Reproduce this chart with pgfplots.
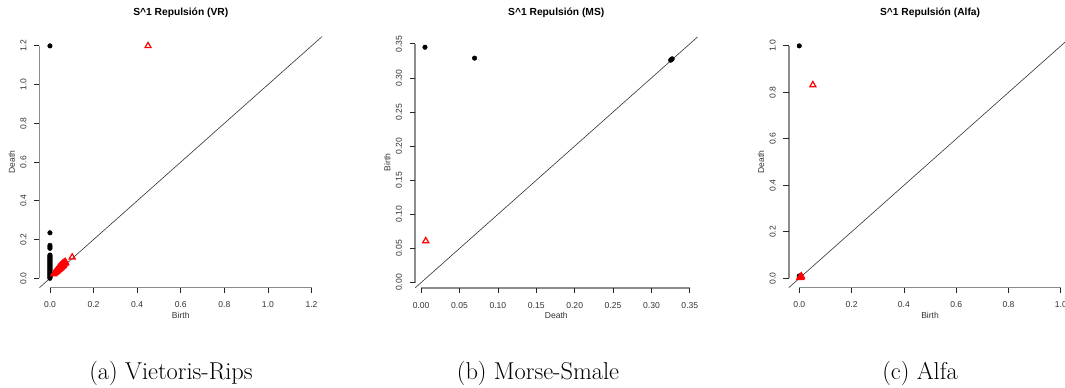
\documentclass[border=0pt]{standalone}
\usepackage{fontspec}
\usepackage{pgfplots}
\pgfplotsset{compat=1.18}
\newfontfamily\rsans{Liberation Sans}
\definecolor{ticktext}{HTML}{333333}
\definecolor{rred}{HTML}{FF0000}

\pgfplotsset{
  rstyle/.style={
    anchor=south west, scale only axis, width=290.5bp, height=259bp,
    axis x line*=bottom, axis y line*=left,
    axis line style={draw=none},
    major tick length=0pt,
    major tick style={draw=none},
    minor tick num=0,
    clip=false,
    unbounded coords=jump,
    /pgf/number format/assume math mode=true,
    /pgf/number format/fixed, /pgf/number format/fixed zerofill,
    tick label style={font=\rsans\fontsize{8.6}{10}\selectfont, text=ticktext},
    yticklabel style={rotate=90, anchor=south, yshift=1.5bp},
    xticklabel style={anchor=north, yshift=-2.7bp},
    label style={font=\rsans\fontsize{8.6}{10}\selectfont, text=ticktext},
    xlabel style={at={(axis description cs:0.51377,0.030888)}, anchor=center, yshift=-27.7bp},
    ylabel style={at={(axis description cs:0.027539,0.51544)}, anchor=center, yshift=27.8bp},
    title style={font=\rsans\bfseries\fontsize{10.3}{12}\selectfont, at={(axis description cs:0.51377,1)}, anchor=base, yshift=15.6bp},
    scaled ticks=false,
  },
  bcirc/.style={only marks, mark=*, mark size=2.3bp, black, mark options={fill=black, draw=black}},
  rtri/.style={only marks, mark=triangle, mark size=3.5bp, rred, mark options={draw=rred, line width=1.2bp}},
  diag/.style={black!80, line width=0.6bp, no marks},
  raxis/.style={black!45, line width=1.5bp, no marks},
  rtick/.style={black!85, line width=0.8bp, no marks},
}

\begin{document}
\begin{tikzpicture}
\useasboundingbox (0bp,0bp) rectangle (1065bp,388bp);

% ---------- Panel 1: Vietoris-Rips ----------
\begin{axis}[rstyle, at={(31.5bp,92.4bp)},
  xmin=-0.0847, xmax=1.248, ymin=-0.0893, ymax=1.248,
  xtick={0,0.2,0.4,0.6,0.8,1.0,1.2}, ytick={0,0.2,0.4,0.6,0.8,1.0,1.2},
  /pgf/number format/precision=1,
  title={S\textasciicircum 1 Repulsión (VR)}, xlabel={Birth}, ylabel={Death}]
\addplot[raxis] coordinates {(0,-0.048) (1.2,-0.048)};
\addplot[raxis] coordinates {(-0.048,0) (-0.048,1.2)};
\addplot[rtick] coordinates {
 (0,-0.048) (0,-0.0764) (0,nan) (0.2,-0.048) (0.2,-0.0764) (0.2,nan)
 (0.4,-0.048) (0.4,-0.0764) (0.4,nan) (0.6,-0.048) (0.6,-0.0764) (0.6,nan)
 (0.8,-0.048) (0.8,-0.0764) (0.8,nan) (1.0,-0.048) (1.0,-0.0764) (1.0,nan)
 (1.2,-0.048) (1.2,-0.0764)};
\addplot[rtick] coordinates {
 (-0.048,0) (-0.0732,0) (nan,0) (-0.048,0.2) (-0.0732,0.2) (nan,0.2)
 (-0.048,0.4) (-0.0732,0.4) (nan,0.4) (-0.048,0.6) (-0.0732,0.6) (nan,0.6)
 (-0.048,0.8) (-0.0732,0.8) (nan,0.8) (-0.048,1.0) (-0.0732,1.0) (nan,1.0)
 (-0.048,1.2) (-0.0732,1.2)};
\addplot[diag] coordinates {(-0.048,-0.048) (1.248,1.248)};
\addplot[bcirc] coordinates {
 (0,1.2) (0,0.235) (0,0.17) (0,0.162) (0,0.155)
 (0,0.0) (0,0.005) (0,0.01) (0,0.015) (0,0.02) (0,0.025) (0,0.03) (0,0.035)
 (0,0.04) (0,0.045) (0,0.05) (0,0.055) (0,0.06) (0,0.065) (0,0.07) (0,0.075)
 (0,0.08) (0,0.085) (0,0.09) (0,0.095) (0,0.1) (0,0.105) (0,0.11) (0,0.115) (0,0.12)
};
\addplot[rtri] coordinates {
 (0.45,1.2) (0.102,0.109)
 (0.018,0.022) (0.022,0.028) (0.025,0.03) (0.028,0.035) (0.03,0.04) (0.032,0.038)
 (0.035,0.045) (0.038,0.05) (0.04,0.055) (0.042,0.048) (0.045,0.06) (0.048,0.065)
 (0.05,0.055) (0.052,0.068) (0.055,0.072) (0.058,0.065) (0.06,0.078) (0.062,0.07)
 (0.065,0.082) (0.068,0.075) (0.07,0.085) (0.072,0.08) (0.035,0.04) (0.045,0.05)
 (0.055,0.06) (0.04,0.045) (0.06,0.066) (0.05,0.062) (0.045,0.055)
};
\end{axis}

% ---------- Panel 2: Morse-Smale ----------
\begin{axis}[rstyle, at={(407bp,92bp)},
  xmin=-0.01842, xmax=0.36, ymin=-0.01973, ymax=0.36,
  xtick={0,0.05,0.1,0.15,0.2,0.25,0.3,0.35}, ytick={0,0.05,0.1,0.15,0.2,0.25,0.3,0.35},
  /pgf/number format/precision=2,
  title={S\textasciicircum 1 Repulsión (MS)}, xlabel={Death}, ylabel={Birth}]
\addplot[raxis] coordinates {(0,-0.008) (0.35,-0.008)};
\addplot[raxis] coordinates {(-0.008,0) (-0.008,0.35)};
\addplot[rtick] coordinates {
 (0,-0.008) (0,-0.01606) (0,nan) (0.05,-0.008) (0.05,-0.01606) (0.05,nan)
 (0.1,-0.008) (0.1,-0.01606) (0.1,nan) (0.15,-0.008) (0.15,-0.01606) (0.15,nan)
 (0.2,-0.008) (0.2,-0.01606) (0.2,nan) (0.25,-0.008) (0.25,-0.01606) (0.25,nan)
 (0.3,-0.008) (0.3,-0.01606) (0.3,nan) (0.35,-0.008) (0.35,-0.01606)};
\addplot[rtick] coordinates {
 (-0.008,0) (-0.01516,0) (nan,0) (-0.008,0.05) (-0.01516,0.05) (nan,0.05)
 (-0.008,0.1) (-0.01516,0.1) (nan,0.1) (-0.008,0.15) (-0.01516,0.15) (nan,0.15)
 (-0.008,0.2) (-0.01516,0.2) (nan,0.2) (-0.008,0.25) (-0.01516,0.25) (nan,0.25)
 (-0.008,0.3) (-0.01516,0.3) (nan,0.3) (-0.008,0.35) (-0.01516,0.35)};
\addplot[diag] coordinates {(-0.008,-0.008) (0.36,0.36)};
\addplot[bcirc] coordinates {
 (0.005,0.345) (0.0696,0.329) (0.325,0.326) (0.327,0.328) (0.326,0.327)
};
\addplot[rtri] coordinates {(0.006,0.061)};
\end{axis}

% ---------- Panel 3: Alfa ----------
\begin{axis}[rstyle, at={(780.8bp,92.4bp)},
  xmin=-0.07059, xmax=1.04, ymin=-0.07442, ymax=1.04,
  xtick={0,0.2,0.4,0.6,0.8,1.0}, ytick={0,0.2,0.4,0.6,0.8,1.0},
  /pgf/number format/precision=1,
  title={S\textasciicircum 1 Repulsión (Alfa)}, xlabel={Birth}, ylabel={Death}]
\addplot[raxis] coordinates {(0,-0.04) (1.0,-0.04)};
\addplot[raxis] coordinates {(-0.04,0) (-0.04,1.0)};
\addplot[rtick] coordinates {
 (0,-0.04) (0,-0.0637) (0,nan) (0.2,-0.04) (0.2,-0.0637) (0.2,nan)
 (0.4,-0.04) (0.4,-0.0637) (0.4,nan) (0.6,-0.04) (0.6,-0.0637) (0.6,nan)
 (0.8,-0.04) (0.8,-0.0637) (0.8,nan) (1.0,-0.04) (1.0,-0.0637)};
\addplot[rtick] coordinates {
 (-0.04,0) (-0.061,0) (nan,0) (-0.04,0.2) (-0.061,0.2) (nan,0.2)
 (-0.04,0.4) (-0.061,0.4) (nan,0.4) (-0.04,0.6) (-0.061,0.6) (nan,0.6)
 (-0.04,0.8) (-0.061,0.8) (nan,0.8) (-0.04,1.0) (-0.061,1.0)};
\addplot[diag] coordinates {(-0.04,-0.04) (1.04,1.04)};
\addplot[bcirc] coordinates {(0,1.0) (0,0.01) (0,0.005)};
\addplot[rtri] coordinates {
 (0.052,0.832) (0.003,0.004) (0.005,0.003) (0.006,0.006) (0.002,0.002) (0.008,0.009)
};
\end{axis}

% ---------- Subcaptions ----------
\node[font=\fontsize{24.5}{29}\selectfont, anchor=center] at (171bp,15bp) {(a) Vietoris-Rips};
\node[font=\fontsize{24.5}{29}\selectfont, anchor=center] at (538bp,15bp) {(b) Morse-Smale};
\node[font=\fontsize{24.5}{29}\selectfont, anchor=center] at (920bp,15bp) {(c) Alfa};
\end{tikzpicture}
\end{document}
